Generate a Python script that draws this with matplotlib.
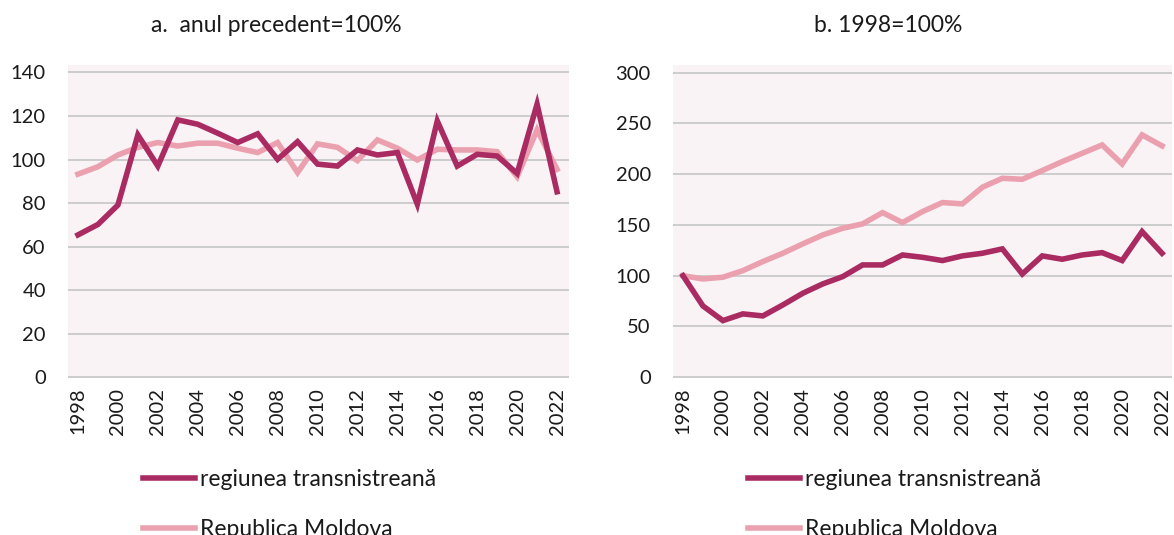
import matplotlib
matplotlib.use("Agg")
import matplotlib.pyplot as plt

plt.rcParams['font.family'] = ['Lato', 'DejaVu Sans']

years = list(range(1998, 2023))
xticks = list(range(1998, 2023, 2))

# a. previous year = 100%
a_transn = [65.4, 70.2, 79.1, 111.3, 97.0, 118.2, 116.2, 112.1, 107.8, 111.8, 100.1, 108.2, 97.9,
            97.0, 104.4, 102.1, 103.2, 79.5, 117.7, 97.0, 102.4, 101.6, 93.6, 125.4, 85.2]
a_moldova = [93.3, 96.7, 102.1, 105.6, 107.8, 106.2, 107.5, 107.5, 105.2, 103.2, 107.8, 94.0, 107.2,
             105.6, 99.5, 109.0, 105.2, 99.8, 104.7, 104.4, 104.4, 103.6, 92.1, 113.6, 95.5]

# b. 1998 = 100%
b_transn = [100, 70.2, 55.8, 62.4, 60.4, 71.2, 82.7, 91.9, 99.1, 110.6, 110.6, 120.4, 118.1,
            114.9, 119.5, 122.1, 126.4, 101.7, 119.5, 116.2, 120.4, 122.7, 114.9, 143.4, 122.1]
b_moldova = [100, 96.8, 98.5, 105.0, 113.9, 122.1, 131.3, 140.1, 146.7, 151.0, 162.1, 152.3, 163.1,
             172.0, 170.7, 187.1, 195.9, 194.9, 203.5, 212.3, 220.5, 228.7, 210.0, 238.6, 227.8]

a_yticks = [0, 20, 40, 60, 80, 100, 120, 140]
b_yticks = [0, 50, 100, 150, 200, 250, 300]

labels = ['regiunea transnistreană', 'Republica Moldova']
titles = ['a.  anul precedent=100%', 'b. 1998=100%']

C_DARK = '#AA2A62'
C_LIGHT = '#EBA0B0'
BG = '#F9F3F5'
GRID = '#C9C9C9'

W, H = 1174, 535
fig = plt.figure(figsize=(W / 100, H / 100), dpi=100)

def px_axes(l, r, t, b):
    return fig.add_axes([l / W, (H - b) / H, (r - l) / W, (b - t) / H])

panels = [
    dict(box=(68, 569, 65, 378), ylim=(-0.3, 143.4), xlim=(1997.5, 2022.6), yt=a_yticks,
         d=(a_transn, a_moldova), title_x=276, leg_x=143),
    dict(box=(673, 1172, 65, 378), ylim=(-0.7, 307.4), xlim=(1997.5, 2022.5), yt=b_yticks,
         d=(b_transn, b_moldova), title_x=888, leg_x=748),
]

for i, p in enumerate(panels):
    ax = px_axes(*p['box'])
    ax.set_facecolor(BG)
    for s in ax.spines.values():
        s.set_visible(False)
    ax.set_xlim(*p['xlim'])
    ax.set_ylim(*p['ylim'])
    ax.set_yticks(p['yt'])
    ax.set_xticks(xticks)
    ax.set_xticklabels([str(x) for x in xticks], rotation=90)
    ax.tick_params(axis='both', length=0, labelsize=14.5, colors='#1a1a1a')
    ax.tick_params(axis='y', pad=16)
    ax.tick_params(axis='x', pad=7)
    ax.yaxis.grid(True, color=GRID, linewidth=1.3)
    ax.set_axisbelow(True)
    l1, = ax.plot(years, p['d'][0], color=C_DARK, linewidth=4.0, solid_joinstyle='miter', zorder=3)
    l2, = ax.plot(years, p['d'][1], color=C_LIGHT, linewidth=4.0, solid_joinstyle='miter', zorder=2)
    fig.text(p['title_x'] / W, (H - 25) / H, titles[i], ha='center', va='center',
             fontsize=16.5, color='#1a1a1a')
    leg = fig.legend([l1, l2], labels, loc='upper left',
                     bbox_to_anchor=(p['leg_x'] / W, (H - 469) / H),
                     frameon=False, fontsize=16.5, borderpad=0, borderaxespad=0,
                     handlelength=2.27, handletextpad=0.22, labelspacing=1.27)
    for t in leg.get_texts():
        t.set_color('#1a1a1a')

fig.savefig('out.png', dpi=100)
